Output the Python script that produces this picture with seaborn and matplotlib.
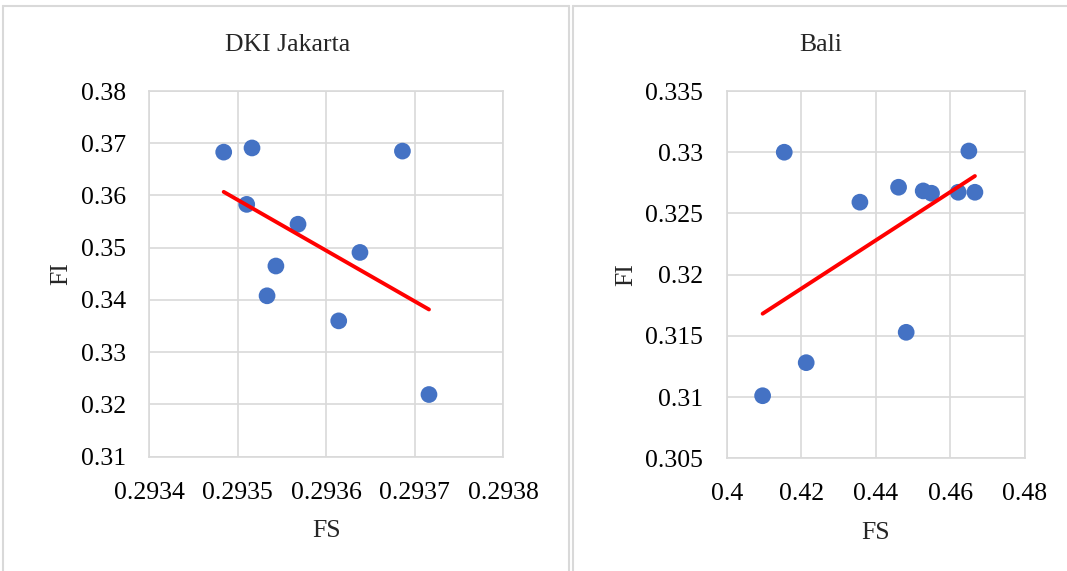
import matplotlib
matplotlib.use("Agg")
import matplotlib.pyplot as plt
from matplotlib.lines import Line2D
import seaborn as sns
import pandas as pd

# DKI Jakarta
jkt_fs = [0.293484, 0.293516, 0.293686, 0.293510, 0.293568, 0.293638, 0.293543, 0.293533, 0.293614, 0.293716]
jkt_fi = [0.3683, 0.3691, 0.3685, 0.3583, 0.3545, 0.3491, 0.3465, 0.3408, 0.3360, 0.3219]
jkt_xticks = [0.2934, 0.2935, 0.2936, 0.2937, 0.2938]
jkt_xlabels = ["0.2934", "0.2935", "0.2936", "0.2937", "0.2938"]
jkt_yticks = [0.31, 0.32, 0.33, 0.34, 0.35, 0.36, 0.37, 0.38]
jkt_ylabels = ["0.31", "0.32", "0.33", "0.34", "0.35", "0.36", "0.37", "0.38"]

# Bali
bali_fs = [0.41545, 0.46496, 0.44611, 0.45271, 0.45494, 0.46210, 0.46658, 0.43574, 0.44815, 0.42134, 0.40965]
bali_fi = [0.3300, 0.3301, 0.32714, 0.32684, 0.32665, 0.32673, 0.32673, 0.32592, 0.31529, 0.31281, 0.31011]
bali_xticks = [0.40, 0.42, 0.44, 0.46, 0.48]
bali_xlabels = ["0.4", "0.42", "0.44", "0.46", "0.48"]
bali_yticks = [0.305, 0.31, 0.315, 0.32, 0.325, 0.33, 0.335]
bali_ylabels = ["0.305", "0.31", "0.315", "0.32", "0.325", "0.33", "0.335"]

sns.set_style("white")
plt.rcParams['font.family'] = ['Liberation Serif', 'DejaVu Serif']

fig = plt.figure(figsize=(10.67, 5.71), dpi=100)
grey = "#d9d9d9"

panels = [
    ("DKI Jakarta", jkt_fs, jkt_fi, jkt_xticks, jkt_xlabels, jkt_yticks, jkt_ylabels,
     [0.140, 0.2002, 0.3317, 0.6404], 288),
    ("Bali", bali_fs, bali_fi, bali_xticks, bali_xlabels, bali_yticks, bali_ylabels,
     [0.681, 0.1974, 0.2796, 0.6432], 821),
]

for title, xs, ys, xt, xl, yt, yl, rect, title_x in panels:
    df = pd.DataFrame({"FS": xs, "FI": ys})
    ax = fig.add_axes(rect)
    sns.regplot(data=df, x="FS", y="FI", ax=ax, ci=None,
                scatter_kws=dict(s=145, color="#4472C4", alpha=1, edgecolor="none", zorder=3),
                line_kws=dict(color="#FF0000", lw=2.8, zorder=4))
    ax.set_xlim(xt[0], xt[-1])
    ax.set_ylim(yt[0], yt[-1])
    ax.set_xticks(xt)
    ax.set_xticklabels(xl)
    ax.set_yticks(yt)
    ax.set_yticklabels(yl)
    ax.grid(True, color=grey, lw=1.2)
    ax.set_axisbelow(True)
    for sp in ax.spines.values():
        sp.set_color(grey)
        sp.set_linewidth(1.2)
    ax.tick_params(length=0, labelsize=18.5, colors="black")
    ax.tick_params(axis="y", pad=17)
    ax.tick_params(axis="x", pad=18)
    ax.set_xlabel("FS", fontsize=18.5, labelpad=12)
    ax.set_ylabel("FI", fontsize=18.5, labelpad=6)
    fig.text(title_x / 1067, 1 - 45 / 571, title, ha="center", va="center", fontsize=18.5)

# chart area borders
def vline(x, y0=6, y1=571):
    fig.add_artist(Line2D([x / 1067, x / 1067], [1 - y0 / 571, 1 - y1 / 571], color=grey, lw=1.5))

def hline(y, x0, x1):
    fig.add_artist(Line2D([x0 / 1067, x1 / 1067], [1 - y / 571, 1 - y / 571], color=grey, lw=1.5))

vline(3)
vline(569)
vline(573)
hline(6, 3, 569)
hline(6, 573, 1067)

fig.savefig("out.png", dpi=100)
